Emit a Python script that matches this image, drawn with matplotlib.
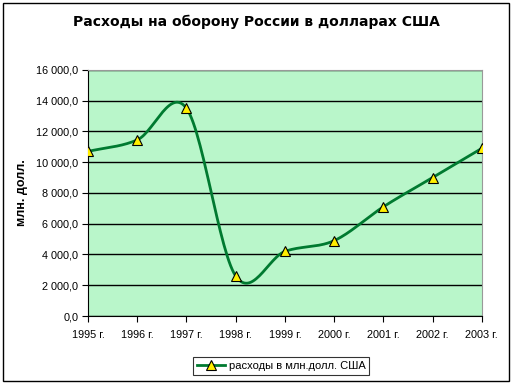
import numpy as np
import matplotlib
matplotlib.use("Agg")
import matplotlib.pyplot as plt
from matplotlib.patches import Rectangle
from matplotlib.ticker import FuncFormatter, MultipleLocator
from matplotlib.lines import Line2D

years = ["1995 г.", "1996 г.", "1997 г.", "1998 г.", "1999 г.", "2000 г.", "2001 г.", "2002 г.", "2003 г."]
spending = [10700, 11450, 13500, 2600, 4200, 4900, 7100, 9000, 10900]
title = "Расходы на оборону России в долларах США"
ylabel = "млн. долл."
legend_label = "расходы в млн.долл. США"

plt.rcParams['font.family'] = ['Liberation Sans', 'DejaVu Sans']

fig = plt.figure(figsize=(5.12, 3.84), dpi=100)
ax = fig.add_axes([0.172, 0.177, 0.769, 0.641])
ax.set_facecolor('#b9f6ca')

x = np.arange(len(years))
y = np.array(spending, dtype=float)

# Catmull-Rom smoothing (Excel-style smoothed line)
def smooth(xs, ys, n=30):
    px = np.concatenate([[2 * xs[0] - xs[1]], xs, [2 * xs[-1] - xs[-2]]])
    py = np.concatenate([[2 * ys[0] - ys[1]], ys, [2 * ys[-1] - ys[-2]]])
    ox, oy = [], []
    for i in range(1, len(px) - 2):
        p0x, p1x, p2x, p3x = px[i - 1:i + 3]
        p0y, p1y, p2y, p3y = py[i - 1:i + 3]
        c1x, c1y = p1x + (p2x - p0x) / 6, p1y + (p2y - p0y) / 6
        c2x, c2y = p2x - (p3x - p1x) / 6, p2y - (p3y - p1y) / 6
        t = np.linspace(0, 1, n)
        bx = (1 - t) ** 3 * p1x + 3 * (1 - t) ** 2 * t * c1x + 3 * (1 - t) * t ** 2 * c2x + t ** 3 * p2x
        by = (1 - t) ** 3 * p1y + 3 * (1 - t) ** 2 * t * c1y + 3 * (1 - t) * t ** 2 * c2y + t ** 3 * p2y
        ox.extend(bx)
        oy.extend(by)
    return np.array(ox), np.array(oy)

sx, sy = smooth(x, y)
line_color = '#007a30'
ax.plot(sx, sy, color=line_color, lw=2.0, zorder=3, solid_capstyle='round')
ax.plot(x, y, linestyle='none', marker='^', markersize=7, markerfacecolor='#ffee00',
        markeredgecolor='black', markeredgewidth=0.8, zorder=4)

ax.set_xlim(0, len(years) - 1)
ax.set_ylim(0, 16000)
ax.yaxis.set_major_locator(MultipleLocator(2000))
ax.yaxis.set_major_formatter(FuncFormatter(lambda v, p: f"{v:,.1f}".replace(',', ' ').replace('.', ',')))
ax.set_xticks(x)
ax.set_xticklabels(years)
ax.grid(axis='y', color='black', lw=1.0, zorder=1)
ax.set_axisbelow(True)
ax.tick_params(axis='both', labelsize=7.8, direction='out', length=4, width=0.8, color='black')
ax.tick_params(axis='x', pad=6)
ax.tick_params(axis='y', pad=3)
for s in ['top', 'right']:
    ax.spines[s].set_color('#999999')
for s in ['left', 'bottom']:
    ax.spines[s].set_color('black')

ax.set_ylabel(ylabel, fontsize=9, fontweight='bold', labelpad=6)
fig.text(0.5, 0.942, title, ha='center', va='center', fontsize=10, fontweight='bold',
         family=['DejaVu Sans'])

handle = Line2D([], [], color=line_color, lw=2, marker='^', markersize=7,
                markerfacecolor='#ffee00', markeredgecolor='black', markeredgewidth=0.8)
leg = fig.legend([handle], [legend_label], loc='center', bbox_to_anchor=(0.549, 0.047),
                 fontsize=8, frameon=True, fancybox=False, edgecolor='black',
                 handlelength=2.6, handletextpad=0.3, borderpad=0.35)
leg.get_frame().set_linewidth(0.8)

fig.patches.append(Rectangle((0.006, 0.008), 0.988, 0.984, transform=fig.transFigure,
                             fill=False, edgecolor='black', lw=1.0))

fig.savefig('out.png', dpi=100)
